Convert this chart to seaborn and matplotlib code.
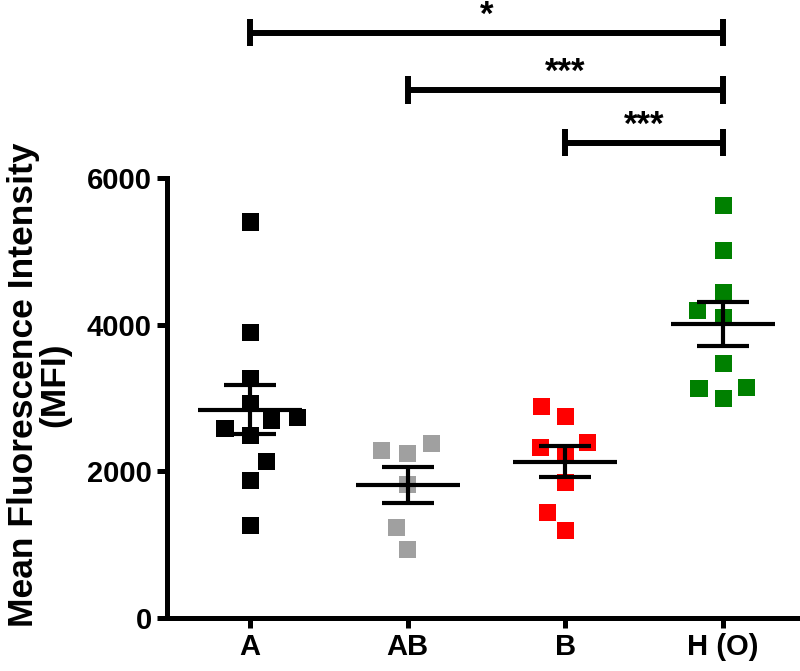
"""
Dot plot of MFI by blood group with mean +/- SEM and significance brackets.
"""

import matplotlib
matplotlib.use("Agg")
import matplotlib.pyplot as plt
import seaborn as sns
import pandas as pd
import numpy as np

# Data
groups = ["A", "AB", "B", "H (O)"]
mfi_a = [5400, 3890, 3270, 2920, 2730, 2690, 2590, 2490, 2140, 1870, 1260]
mfi_ab = [2375, 2240, 2290, 1815, 1240, 930]
mfi_b = [2890, 2745, 2390, 2320, 2210, 1845, 1435, 1190]
mfi_h = [5620, 5010, 4440, 4190, 4095, 3470, 3140, 3125, 2990]
colors = ["#000000", "#a0a0a0", "#ff0000", "#008000"]

# significance brackets: (left group, right group, label)
brackets = [("A", "H (O)", "*"), ("AB", "H (O)", "***"), ("B", "H (O)", "***")]
bracket_y = [7980, 7200, 6480]

sns.set_theme(style="white")
plt.rcParams["font.family"] = ["Liberation Sans", "DejaVu Sans"]
plt.rcParams["font.weight"] = "bold"
for key in ("text.color", "axes.labelcolor", "xtick.color", "ytick.color"):
    plt.rcParams[key] = "black"

df = pd.DataFrame({
    "group": np.repeat(groups, [len(mfi_a), len(mfi_ab), len(mfi_b), len(mfi_h)]),
    "mfi": mfi_a + mfi_ab + mfi_b + mfi_h,
})

fig = plt.figure(figsize=(8, 6.71), dpi=100)
ax = fig.add_axes([0.209, 0.079, 0.791, 0.921])

# swarm laid out with a wider footprint, then markers shrunk (GraphPad-like spacing)
sns.swarmplot(data=df, x="group", y="mfi", hue="group", order=groups,
              palette=colors, marker="s", size=18, linewidth=0,
              legend=False, ax=ax, zorder=2)

ax.set_xlim(-0.526, 3.488)
ax.set_ylim(0, 8427)
fig.canvas.draw()
for coll in list(ax.collections):
    if "draw" in coll.__dict__:
        del coll.__dict__["draw"]
    coll.set_sizes([12.3 ** 2])

# mean +/- SEM
stats = df.groupby("group", sort=False)["mfi"].agg(["mean", "sem"]).reindex(groups)
pos = np.arange(len(groups))
ax.hlines(stats["mean"], pos - 0.33, pos + 0.33, color="black", lw=3, zorder=3)
ax.errorbar(pos, stats["mean"], yerr=stats["sem"], fmt="none", ecolor="black",
            elinewidth=3, capsize=19, capthick=3, zorder=3)

# brackets above the plot
for (g1, g2, label), yb in zip(brackets, bracket_y):
    x1, x2 = groups.index(g1), groups.index(g2)
    ax.plot([x1, x2], [yb, yb], color="black", lw=4.3, clip_on=False,
            solid_capstyle="butt")
    for xe in (x1, x2):
        ax.plot([xe, xe], [yb - 185, yb + 185], color="black", lw=4.3,
                clip_on=False, solid_capstyle="butt")
    ax.text((x1 + x2) / 2, yb + 110, label, ha="center", va="baseline",
            fontsize=25, fontweight="bold", clip_on=False)

ax.set_xlim(-0.526, 3.488)
ax.set_ylim(0, 8427)
ax.set_yticks([0, 2000, 4000, 6000])
ax.spines["left"].set_bounds(0, 6000)
for side in ("top", "right"):
    ax.spines[side].set_visible(False)
for side in ("left", "bottom"):
    ax.spines[side].set_linewidth(3.6)
    ax.spines[side].set_color("black")

ax.tick_params(axis="both", direction="out", length=7, width=3.6, colors="black",
               left=True, bottom=True, pad=4)
ax.tick_params(axis="y", labelsize=21)
ax.tick_params(axis="x", labelsize=21)
for lbl in ax.get_xticklabels() + ax.get_yticklabels():
    lbl.set_fontweight("bold")

ax.set_xlabel("")
ax.set_ylabel("Mean Fluorescence Intensity\n(MFI)", fontsize=25.5,
              fontweight="bold", linespacing=0.95)
ax.yaxis.set_label_coords(-0.151, 0.377)

plt.savefig("out.png", dpi=100)
plt.close()
